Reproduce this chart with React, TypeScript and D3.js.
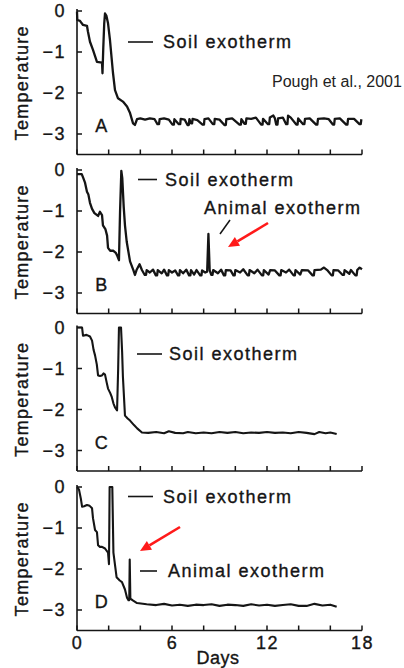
import React from "react";
import * as d3 from "d3";

// ---------- data ----------
const panelLetters = ["A", "B", "C", "D"];
const yTicks = [0, -1, -2, -3];
const yTickLabels = ["0", "\u22121", "\u22122", "\u22123"];
const xTicks = [0, 2, 4, 6, 8, 10, 12, 14, 16, 18];
const xLabelTicks = [0, 6, 12, 18];
const soilLabel = "Soil exotherm";
const animalLabel = "Animal exotherm";
const yTitle = "Temperature";
const xTitle = "Days";
const credit = "Pough et al., 2001";

// [day, temperature]
const seriesA: [number, number][] = [
  [0, -0.02], [0.02, -0.22], [0.19, -0.24], [0.3, -0.3], [0.38, -0.34], [0.63, -0.36], [0.69, -0.5],
  [0.82, -0.75], [1.01, -0.95], [1.14, -1.1], [1.26, -1.24], [1.58, -1.26], [1.61, -1.52],
  [1.66, -0.9], [1.72, -0.3], [1.77, -0.06], [1.86, -0.12], [1.96, -0.3], [2.08, -0.7],
  [2.27, -1.5], [2.4, -1.93], [2.59, -2.13], [2.9, -2.21], [3.16, -2.33], [3.35, -2.49],
  [3.54, -2.74], [3.66, -2.78], [3.79, -2.64],
  [4.0, -2.62], [4.3, -2.65], [4.6, -2.62], [4.9, -2.64], [5.08, -2.76], [5.18, -2.76], [5.22, -2.64], [5.5, -2.62],
  [5.8, -2.65], [6.03, -2.77], [6.12, -2.77], [6.15, -2.64], [6.43, -2.76], [6.52, -2.76], [6.55, -2.63], [6.8, -2.65], [6.98, -2.78],
  [7.06, -2.78], [7.1, -2.64], [7.2, -2.74], [7.27, -2.74], [7.3, -2.63], [7.6, -2.66], [7.93, -2.77], [8.02, -2.77], [8.05, -2.64], [8.3, -2.62],
  [8.58, -2.76], [8.67, -2.76], [8.7, -2.63], [9.0, -2.65], [9.31, -2.78], [9.4, -2.78], [9.43, -2.64], [9.8, -2.62], [10.26, -2.77],
  [10.35, -2.77], [10.38, -2.64], [10.58, -2.75], [10.66, -2.75], [10.7, -2.62], [11.0, -2.63], [11.3, -2.6], [11.63, -2.77], [11.72, -2.77], [11.75, -2.63],
  [12.06, -2.76], [12.14, -2.76], [12.18, -2.6], [12.4, -2.55], [12.5, -2.62], [12.58, -2.77], [12.66, -2.77], [12.7, -2.62], [13.0, -2.6],
  [13.21, -2.76], [13.29, -2.76], [13.33, -2.55], [13.5, -2.6], [13.85, -2.77], [13.93, -2.77], [13.97, -2.62], [14.28, -2.76], [14.36, -2.76], [14.4, -2.63],
  [14.7, -2.62], [15.1, -2.77], [15.18, -2.77], [15.22, -2.63], [15.6, -2.62], [15.9, -2.64], [16.16, -2.77], [16.24, -2.77], [16.28, -2.63],
  [16.6, -2.62], [17.0, -2.77], [17.08, -2.77], [17.12, -2.63], [17.5, -2.63], [17.84, -2.76], [17.92, -2.76], [17.96, -2.64],
];

const seriesB: [number, number][] = [
  [0, -0.1], [0.3, -0.1], [0.4, -0.2], [0.5, -0.3], [0.63, -0.53], [0.72, -0.6], [0.82, -0.8],
  [0.95, -0.95], [1.1, -1.05], [1.33, -1.12], [1.45, -1.02], [1.58, -1.1], [1.64, -1.35], [1.8, -1.45],
  [1.9, -1.6], [1.96, -1.9], [2.1, -1.97], [2.3, -1.97], [2.45, -2.02], [2.55, -2.1], [2.65, -2.2],
  [2.72, -1.0], [2.8, -0.02], [2.86, -0.2], [2.95, -0.9], [3.03, -1.35], [3.14, -1.75], [3.35, -2.23],
  [3.56, -2.44], [3.66, -2.56], [3.76, -2.44],
  [3.95, -2.3], [4.1, -2.44], [4.28, -2.56], [4.36, -2.56], [4.4, -2.44], [4.6, -2.5], [4.8, -2.43], [4.98, -2.57], [5.06, -2.57],
  [5.1, -2.44], [5.35, -2.52], [5.5, -2.43], [5.68, -2.57], [5.76, -2.57], [5.8, -2.44], [6.0, -2.5], [6.2, -2.45],
  [6.38, -2.57], [6.46, -2.57], [6.5, -2.44], [6.7, -2.52], [6.9, -2.43], [7.08, -2.57], [7.16, -2.57], [7.2, -2.44], [7.4, -2.55],
  [7.55, -2.44], [7.78, -2.57], [7.86, -2.57], [7.9, -2.45], [8.1, -2.5], [8.22, -2.48], [8.3, -1.56], [8.38, -2.45],
  [8.48, -2.56], [8.56, -2.56], [8.6, -2.44], [8.9, -2.52], [9.1, -2.43], [9.28, -2.57], [9.36, -2.57], [9.4, -2.44], [9.7, -2.45],
  [9.88, -2.57], [9.96, -2.57], [10.0, -2.44], [10.3, -2.5], [10.5, -2.42], [10.78, -2.57], [10.86, -2.57], [10.9, -2.44], [11.2, -2.52],
  [11.4, -2.43], [11.68, -2.57], [11.76, -2.57], [11.8, -2.44], [12.1, -2.55], [12.2, -2.44], [12.5, -2.45], [12.78, -2.57],
  [12.86, -2.57], [12.9, -2.44], [13.2, -2.5], [13.4, -2.43], [13.68, -2.57], [13.76, -2.57], [13.8, -2.44], [14.1, -2.55], [14.2, -2.44],
  [14.6, -2.45], [14.88, -2.57], [14.96, -2.57], [15.0, -2.44], [15.4, -2.43], [15.6, -2.38], [15.8, -2.44], [16.08, -2.57],
  [16.16, -2.57], [16.2, -2.44], [16.5, -2.45], [16.78, -2.56], [16.86, -2.56], [16.9, -2.44], [17.2, -2.53], [17.3, -2.44], [17.58, -2.57],
  [17.66, -2.57], [17.7, -2.44], [17.85, -2.38], [18.0, -2.42],
];

const seriesC: [number, number][] = [
  [0, 0], [0.32, 0], [0.38, -0.2], [0.6, -0.18], [0.82, -0.22], [0.95, -0.32], [1.05, -0.55],
  [1.14, -0.68], [1.25, -0.9], [1.33, -1.17], [1.45, -1.18], [1.58, -1.17], [1.68, -1.12], [1.77, -1.15],
  [1.88, -1.35], [1.96, -1.49], [2.1, -1.6], [2.2, -1.7], [2.3, -1.85], [2.4, -1.95], [2.53, -2.02],
  [2.6, -1.0], [2.65, 0], [2.78, 0], [2.85, -0.6], [2.9, -1.2], [3.03, -2.15], [3.2, -2.22],
  [3.35, -2.27], [3.6, -2.38], [3.8, -2.46], [4.1, -2.56], [4.5, -2.57], [5.0, -2.55], [5.5, -2.58],
  [5.8, -2.53], [6.2, -2.57], [6.7, -2.58], [7.0, -2.55], [7.5, -2.58], [8.0, -2.56], [8.5, -2.58],
  [9.0, -2.55], [9.5, -2.57], [10.0, -2.55], [10.5, -2.58], [11.0, -2.56], [11.5, -2.57], [12.0, -2.55],
  [12.5, -2.57], [13.0, -2.56], [13.5, -2.58], [14.0, -2.55], [14.5, -2.57], [15.0, -2.6], [15.3, -2.55],
  [15.7, -2.58], [16.0, -2.56], [16.4, -2.6],
];

const seriesD: [number, number][] = [
  [0, 0], [0.07, -0.03], [0.13, -0.07], [0.25, -0.3], [0.32, -0.48], [0.45, -0.47], [0.63, -0.44],
  [0.8, -0.46], [0.95, -0.52], [1.01, -0.76], [1.14, -1.05], [1.26, -1.1], [1.33, -1.42], [1.45, -1.46],
  [1.58, -1.46], [1.77, -1.5], [1.96, -1.6], [2.02, -1.88], [2.04, -1.0], [2.06, 0], [2.23, 0],
  [2.3, -1.6], [2.5, -2.2], [2.7, -2.28], [2.84, -2.32], [3.03, -2.5], [3.16, -2.7], [3.25, -2.76],
  [3.3, -2.76], [3.33, -1.77], [3.37, -2.72], [3.5, -2.76], [3.79, -2.83], [4.4, -2.86], [5.0, -2.88],
  [5.5, -2.85], [6.0, -2.89], [6.5, -2.87], [7.0, -2.9], [7.5, -2.87], [8.0, -2.88], [8.5, -2.86],
  [9.0, -2.9], [9.5, -2.87], [10.0, -2.88], [10.5, -2.9], [11.0, -2.86], [11.5, -2.89], [12.0, -2.87],
  [12.5, -2.9], [13.0, -2.88], [13.5, -2.86], [14.0, -2.9], [14.5, -2.9], [15.0, -2.85], [15.5, -2.89],
  [16.0, -2.87], [16.4, -2.92],
];

const allSeries = [seriesA, seriesB, seriesC, seriesD];

// ---------- layout ----------
const W = 404;
const H = 668;
const xLeft = 77;
const xRight = 362;
const panelTops = [11, 170, 327.5, 487];
const unitPx = 41;
const panelHeight = unitPx * 3.5;
const font = "'Liberation Sans', Arial, Helvetica, sans-serif";
const ink = "#151515";

const soilLegend = [
  { x1: 128, x2: 153, dy: 31, tx: 163 },
  { x1: 138, x2: 157, dy: 9.5, tx: 165 },
  { x1: 137, x2: 162, dy: 26.5, tx: 169 },
  { x1: 128, x2: 153, dy: 9.5, tx: 163 },
];

function Arrow({ x1, y1, x2, y2 }: { x1: number; y1: number; x2: number; y2: number }) {
  const ang = Math.atan2(y2 - y1, x2 - x1);
  const len = 11;
  const half = 5;
  const bx = x2 - len * Math.cos(ang);
  const by = y2 - len * Math.sin(ang);
  const px = -Math.sin(ang) * half;
  const py = Math.cos(ang) * half;
  return (
    <g>
      <line x1={x1} y1={y1} x2={bx} y2={by} stroke="#ff1a1a" strokeWidth={2.6} />
      <polygon points={`${x2},${y2} ${bx + px},${by + py} ${bx - px},${by - py}`} fill="#ff1a1a" />
    </g>
  );
}

export default function App() {
  const x = d3.scaleLinear().domain([0, 18]).range([xLeft, xRight]);
  const textStyle = {
    fontFamily: font,
    fontSize: 18,
    fill: ink,
    letterSpacing: 1.5,
    stroke: ink,
    strokeWidth: 0.35,
  } as const;

  return (
    <div style={{ position: "absolute", left: 0, top: 0 }}>
      <svg width={W} height={H} style={{ display: "block", background: "#fff" }}>
        {panelTops.map((top, i) => {
          const y = d3.scaleLinear().domain([-3.5, 0]).range([top + panelHeight, top]);
          const line = d3
            .line<[number, number]>()
            .x((d) => x(d[0]))
            .y((d) => y(d[1]));
          const lg = soilLegend[i];
          const bottom = y(-3.5);
          return (
            <g key={i}>
              {/* axes */}
              <line x1={xLeft} y1={y(0) - 2} x2={xLeft} y2={bottom} stroke={ink} strokeWidth={1.6} />
              <line x1={xLeft} y1={bottom} x2={xRight} y2={bottom} stroke={ink} strokeWidth={1.6} />
              {yTicks.map((t, k) => (
                <g key={k}>
                  <line x1={xLeft} x2={xLeft + 5} y1={y(t)} y2={y(t)} stroke={ink} strokeWidth={1.5} />
                  <text x={66} y={y(t)} dy="0.36em" textAnchor="end" style={textStyle}>
                    {yTickLabels[k]}
                  </text>
                </g>
              ))}
              {xTicks.map((t) => (
                <line key={t} x1={x(t)} x2={x(t)} y1={bottom} y2={bottom - 5} stroke={ink} strokeWidth={1.5} />
              ))}
              <text
                transform={`translate(22,${top + panelHeight / 2}) rotate(-90)`}
                textAnchor="middle"
                dy="0.36em"
                style={{ ...textStyle, letterSpacing: 1.3 }}
              >
                {yTitle}
              </text>
              <text x={102} y={top + 115} dy="0.36em" textAnchor="middle" style={textStyle}>
                {panelLetters[i]}
              </text>
              {/* curve */}
              <path
                d={line(allSeries[i]) || ""}
                fill="none"
                stroke={ink}
                strokeWidth={i < 2 ? 2.3 : 2.1}
                strokeLinejoin="round"
              />
              {/* soil legend */}
              <line x1={lg.x1} x2={lg.x2} y1={top + lg.dy} y2={top + lg.dy} stroke={ink} strokeWidth={1.6} />
              <text x={lg.tx} y={top + lg.dy} dy="0.36em" style={textStyle}>
                {soilLabel}
              </text>
            </g>
          );
        })}

        {/* Panel B animal exotherm annotation */}
        <text x={204} y={207.5} dy="0.36em" style={textStyle}>
          {animalLabel}
        </text>
        <line x1={220} y1={234} x2={230} y2={220} stroke={ink} strokeWidth={1.5} />
        <Arrow x1={268} y1={223} x2={228} y2={247} />

        {/* Panel D animal exotherm annotation */}
        <line x1={140} x2={157} y1={571} y2={571} stroke={ink} strokeWidth={1.6} />
        <text x={168} y={571} dy="0.36em" style={textStyle}>
          {animalLabel}
        </text>
        <Arrow x1={180} y1={527} x2={140} y2={551} />

        {/* bottom axis labels */}
        {xLabelTicks.map((t) => (
          <text key={t} x={x(t) + 0.5} y={642.5} dy="0.36em" textAnchor="middle" style={textStyle}>
            {t}
          </text>
        ))}
        <text x={218} y={658} dy="0.36em" textAnchor="middle" style={{ ...textStyle, letterSpacing: 0.5 }}>
          {xTitle}
        </text>

        {/* credit */}
        <text x={272} y={87} style={{ fontFamily: font, fontSize: 16, fill: "#222" }}>
          {credit}
        </text>
      </svg>
    </div>
  );
}
